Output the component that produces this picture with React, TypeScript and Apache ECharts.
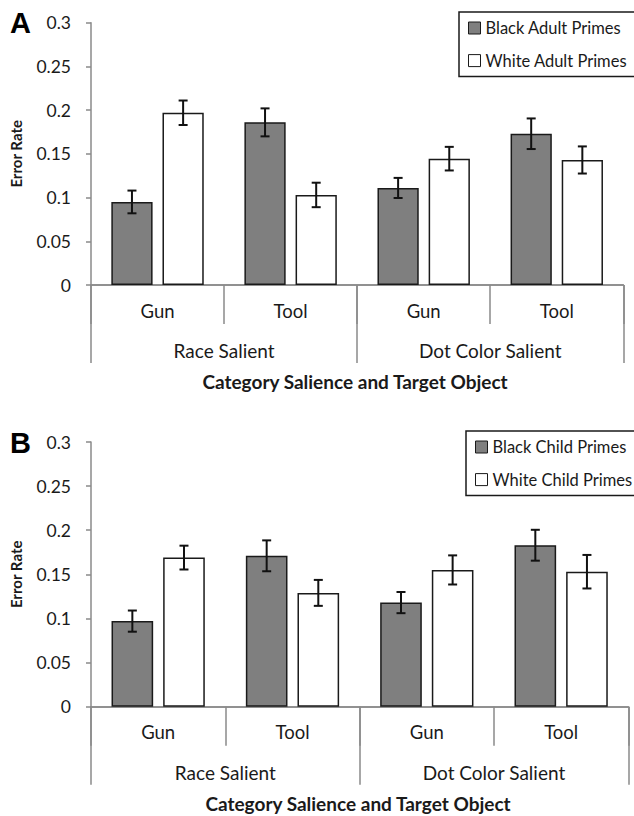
import React, { useEffect, useRef } from "react";
import * as echarts from "echarts";

const level1 = ["Gun", "Tool", "Gun", "Tool"];
const level2 = ["Race Salient", "Dot Color Salient"];
const yMin = 0;
const yMax = 0.3;
const yStep = 0.05;

const adultBlack = [0.095, 0.186, 0.111, 0.173];
const adultBlackErr = [0.013, 0.016, 0.0115, 0.0175];
const adultWhite = [0.197, 0.103, 0.1445, 0.143];
const adultWhiteErr = [0.014, 0.014, 0.0135, 0.0155];

const childBlack = [0.097, 0.171, 0.118, 0.183];
const childBlackErr = [0.012, 0.0175, 0.012, 0.0175];
const childWhite = [0.169, 0.129, 0.155, 0.153];
const childWhiteErr = [0.0135, 0.0147, 0.0165, 0.019];

const FONT = "Lato";
const AXIS_GRAY = "#8a8a8a";
const TEXT = "#1a1a1a";
const DARK = "#7f7f7f";
const BAR_W = 0.31;
const BAR_GAP = 0.24;

function errData(vals: number[], errs: number[]) {
  return vals.map((v, i) => [i, v - errs[i], v + errs[i]]);
}

function makeErr(name: string, vals: number[], errs: number[], axis: number, side: number) {
  return {
    type: "custom",
    name: name + " err",
    xAxisIndex: axis * 2,
    yAxisIndex: axis,
    z: 5,
    silent: true,
    data: errData(vals, errs),
    encode: { x: 0, y: [1, 2] },
    renderItem: (params: any, api: any) => {
      const idx = api.value(0);
      const lo = api.coord([idx, api.value(1)]);
      const hi = api.coord([idx, api.value(2)]);
      const bw = api.size([1, 0])[0];
      const off = side * ((BAR_W * bw + BAR_GAP * BAR_W * bw) / 2);
      const x = lo[0] + off;
      const cap = 4.5;
      const st = { stroke: "#111", lineWidth: 2 };
      return {
        type: "group",
        children: [
          { type: "line", shape: { x1: x, y1: lo[1], x2: x, y2: hi[1] }, style: st },
          { type: "line", shape: { x1: x - cap, y1: lo[1], x2: x + cap, y2: lo[1] }, style: st },
          { type: "line", shape: { x1: x - cap, y1: hi[1], x2: x + cap, y2: hi[1] }, style: st },
        ],
      };
    },
  };
}

function makeBar(name: string, vals: number[], axis: number, fill: string) {
  return {
    type: "bar",
    name,
    xAxisIndex: axis * 2,
    yAxisIndex: axis,
    data: vals,
    barWidth: BAR_W * 100 + "%",
    barGap: BAR_GAP * 100 + "%",
    itemStyle: { color: fill, borderColor: "#1a1a1a", borderWidth: 1.5 },
    z: 3,
  };
}

function xAxes(grid: number) {
  return [
    {
      type: "category",
      gridIndex: grid,
      data: level1,
      position: "bottom",
      offset: 0,
      axisLine: { show: true, lineStyle: { color: AXIS_GRAY, width: 1.5 } },
      axisTick: { show: true, length: 39, interval: 0, lineStyle: { color: AXIS_GRAY, width: 1.5 } },
      axisLabel: { interval: 0, margin: 16, fontFamily: FONT, fontSize: 18.5, color: TEXT },
    },
    {
      type: "category",
      gridIndex: grid,
      data: level2,
      position: "bottom",
      offset: 0,
      axisLine: { show: true, lineStyle: { color: AXIS_GRAY, width: 1.5 } },
      axisTick: { show: true, length: 78, interval: 0, lineStyle: { color: AXIS_GRAY, width: 1.5 } },
      axisLabel: { interval: 0, margin: 56, fontFamily: FONT, fontSize: 19, color: TEXT },
    },
  ];
}

function yAxis(grid: number) {
  return {
    type: "value",
    gridIndex: grid,
    min: yMin,
    max: yMax,
    interval: yStep,
    name: "Error Rate",
    nameLocation: "middle",
    nameRotate: 90,
    nameGap: 68,
    nameTextStyle: { fontFamily: FONT, fontWeight: "bold", fontSize: 15, color: TEXT },
    splitLine: { show: false },
    axisLine: { show: true, lineStyle: { color: AXIS_GRAY, width: 1.5 } },
    axisTick: { show: true, length: 5, lineStyle: { color: AXIS_GRAY, width: 1.5 } },
    axisLabel: { margin: 20, fontFamily: FONT, fontSize: 17.5, color: TEXT },
  };
}

function legend(names: string[], left: number, top: number) {
  return {
    orient: "vertical",
    left,
    top,
    padding: [6, 10, 6, 9],
    itemGap: 12.6,
    itemWidth: 12,
    itemHeight: 12,
    borderColor: "#1a1a1a",
    borderWidth: 1.5,
    icon: "rect",
    textStyle: { fontFamily: FONT, fontSize: 16.5, color: TEXT, lineHeight: 20 },
    data: [
      { name: names[0], itemStyle: { color: DARK, borderColor: "#1a1a1a", borderWidth: 1 } },
      { name: names[1], itemStyle: { color: "#fff", borderColor: "#1a1a1a", borderWidth: 1 } },
    ],
  };
}

export default function App() {
  const ref = useRef<HTMLDivElement>(null);
  useEffect(() => {
    if (!ref.current) return;
    const chart = echarts.init(ref.current, null, { renderer: "svg" });
    const option: any = {
      animation: false,
      backgroundColor: "#fff",
      textStyle: { fontFamily: FONT },
      grid: [
        { left: 86.7, right: 10.7, top: 22.7, height: 262.3 },
        { left: 87.3, right: 5.7, top: 442, height: 264.7 },
      ],
      xAxis: [...xAxes(0), ...xAxes(1)],
      yAxis: [yAxis(0), yAxis(1)],
      legend: [
        legend(["Black Adult Primes", "White Adult Primes"], 459, 12),
        legend(["Black Child Primes", "White Child Primes"], 466, 431),
      ],
      series: [
        makeBar("Black Adult Primes", adultBlack, 0, DARK),
        makeBar("White Adult Primes", adultWhite, 0, "#ffffff"),
        makeErr("Black Adult Primes", adultBlack, adultBlackErr, 0, -1),
        makeErr("White Adult Primes", adultWhite, adultWhiteErr, 0, 1),
        makeBar("Black Child Primes", childBlack, 1, DARK),
        makeBar("White Child Primes", childWhite, 1, "#ffffff"),
        makeErr("Black Child Primes", childBlack, childBlackErr, 1, -1),
        makeErr("White Child Primes", childWhite, childWhiteErr, 1, 1),
      ],
      graphic: [
        {
          type: "text",
          left: 10,
          top: 8,
          style: { text: "A", font: "bold 29px 'Liberation Sans', Arial", fill: "#000" },
        },
        {
          type: "text",
          left: 10,
          top: 428,
          style: { text: "B", font: "bold 29px 'Liberation Sans', Arial", fill: "#000" },
        },
        {
          type: "text",
          x: 355,
          y: 381,
          style: {
            text: "Category Salience and Target Object",
            font: "bold 19px Lato",
            fill: TEXT,
            textAlign: "center",
            textVerticalAlign: "middle",
          },
        },
        {
          type: "text",
          x: 358,
          y: 803,
          style: {
            text: "Category Salience and Target Object",
            font: "bold 19px Lato",
            fill: TEXT,
            textAlign: "center",
            textVerticalAlign: "middle",
          },
        },
      ],
    };
    chart.setOption(option);
    return () => chart.dispose();
  }, []);
  return (
    <div
      ref={ref}
      style={{ position: "absolute", left: 0, top: 0, width: 634, height: 816 }}
    />
  );
}
